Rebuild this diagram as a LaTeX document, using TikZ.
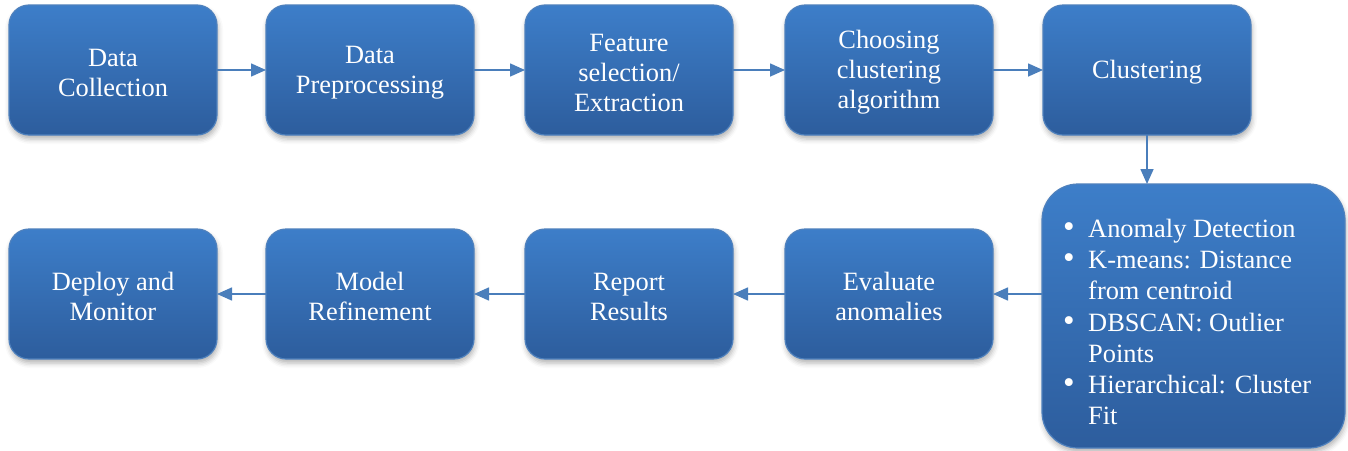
\documentclass[tikz,border=0pt]{standalone}
\usepackage{fontspec}
\setmainfont{Liberation Serif}
\usetikzlibrary{arrows.meta,shadows.blur}
\definecolor{boxtop}{RGB}{61,126,201}
\definecolor{boxbot}{RGB}{45,93,157}
\definecolor{boxedge}{RGB}{79,129,189}
\definecolor{flow}{RGB}{74,126,187}
\newcommand{\bitem}{\makebox[26pt][l]{\hspace{1pt}\scalebox{1.25}{\textbullet}}}
\newcommand{\bcont}{\hspace*{26pt}}
% taller first line so each label sits a little lower in its box
\newcommand{\firststrut}{\rule{0pt}{22.5pt}}
\begin{document}
\begin{tikzpicture}[x=1pt,y=-1pt,
  stepbox/.style={draw=boxedge, line width=1.2pt, rounded corners=20pt,
    top color=boxtop, bottom color=boxbot, text=white, align=center,
    minimum width=208pt, minimum height=130pt, outer sep=0pt, inner sep=0pt,
    font=\fontsize{26.4}{30}\selectfont,
    blur shadow={shadow xshift=1pt, shadow yshift=-4pt, shadow blur radius=5pt, shadow opacity=30}},
  flowarrow/.style={draw=flow, line width=1.6pt, -{Triangle[length=15pt,width=13pt]}}]
\useasboundingbox (0,0) rectangle (1348,450);
% top row
\node[stepbox] (collect) at (113,70) {\firststrut Data\\Collection};
\node[stepbox] (prep) at (370,70) {\firststrut Data\\Preprocessing};
\node[stepbox] (feat) at (629,70) {\firststrut Feature\\selection/\\Extraction};
\node[stepbox] (choose) at (889,70) {\firststrut Choosing\\clustering\\algorithm};
\node[stepbox] (clust) at (1147,70) {\firststrut Clustering};
% detail box and its bullet list
\node[stepbox, rounded corners=36pt, minimum width=303pt, minimum height=264pt] (detail) at (1193.5,316) {};
\node[text=white, align=left, anchor=west, inner sep=0pt,
  font=\fontsize{26.4}{31.3}\selectfont] (detailtext) at (1062,322)
  {\bitem Anomaly Detection\\
   \bitem K-means: Distance\\
   \bcont from centroid\\
   \bitem DBSCAN: Outlier\\
   \bcont Points\\
   \bitem Hierarchical: Cluster\\
   \bcont Fit};
% bottom row
\node[stepbox] (eval) at (889,294) {\firststrut Evaluate\\anomalies};
\node[stepbox] (report) at (629,294) {\firststrut Report\\Results};
\node[stepbox] (refine) at (370,294) {\firststrut Model\\Refinement};
\node[stepbox] (deploy) at (113,294) {\firststrut Deploy and\\Monitor};
% connectors
\draw[flowarrow] (collect) -- (prep);
\draw[flowarrow] (prep) -- (feat);
\draw[flowarrow] (feat) -- (choose);
\draw[flowarrow] (choose) -- (clust);
\draw[flowarrow] (clust.south) -- (clust.south |- detail.north);
\draw[flowarrow] (detail.west |- eval) -- (eval);
\draw[flowarrow] (eval) -- (report);
\draw[flowarrow] (report) -- (refine);
\draw[flowarrow] (refine) -- (deploy);
\end{tikzpicture}
\end{document}
